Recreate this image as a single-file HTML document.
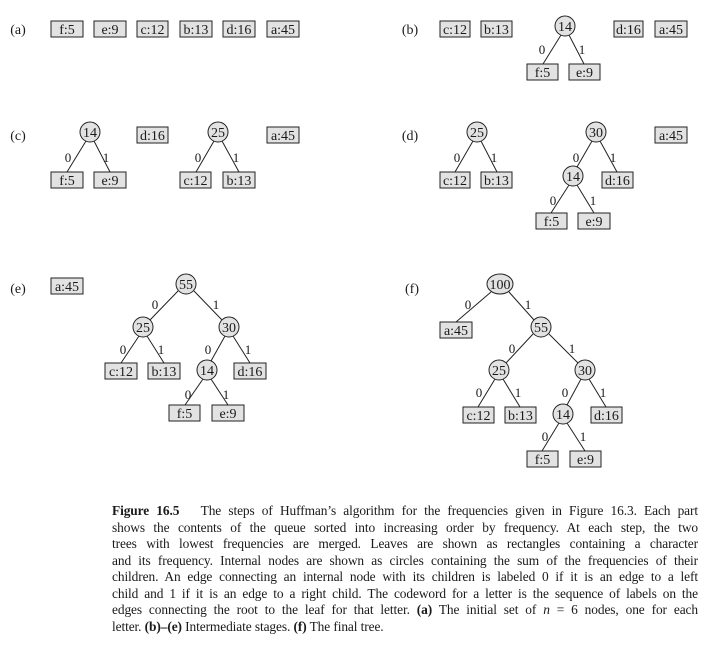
<!DOCTYPE html>
<html><head><meta charset="utf-8"><style>
body{margin:0;background:#fff;width:722px;height:670px;overflow:hidden;position:relative}
svg{position:absolute;left:0;top:0}
svg text{font-family:"Liberation Serif",serif;font-size:14px;fill:#1a1a1a}
.b rect{fill:#e2e2e2;stroke:#222;stroke-width:1}
.c{fill:#e2e2e2;stroke:#222;stroke-width:1}
.e{stroke:#222;stroke-width:1}
.l text{font-size:13px}
.cap{position:absolute;left:112px;top:503px;width:586px;font-family:"Liberation Serif",serif;font-size:13.4px;line-height:16.5px;color:#1a1a1a;letter-spacing:-0.1px}
.cap div{text-align:justify;text-align-last:justify;white-space:nowrap}
.cap div.last{text-align-last:left}
</style></head><body>
<svg width="722" height="670" xmlns="http://www.w3.org/2000/svg" text-anchor="middle">
<text x="18" y="34">(a)</text><text x="410" y="34">(b)</text>
<text x="18" y="140">(c)</text><text x="410" y="140">(d)</text>
<text x="18" y="293">(e)</text><text x="412" y="293">(f)</text>

<g class="e">
<line x1="561" y1="35" x2="543" y2="64"/><line x1="569" y1="35" x2="584" y2="64"/>
<line x1="86" y1="141" x2="67" y2="172"/><line x1="94" y1="141" x2="110" y2="172"/>
<line x1="214" y1="141" x2="196" y2="172"/><line x1="222" y1="141" x2="239" y2="172"/>
<line x1="473" y1="141" x2="455" y2="172"/><line x1="481" y1="141" x2="497" y2="172"/>
<line x1="592" y1="141" x2="577" y2="167"/><line x1="600" y1="141" x2="617" y2="172"/>
<line x1="569" y1="185" x2="551" y2="213"/><line x1="577" y1="185" x2="594" y2="213"/>
<line x1="178" y1="291" x2="150" y2="320"/><line x1="194" y1="291" x2="222" y2="320"/>
<line x1="139" y1="336" x2="121" y2="363"/><line x1="147" y1="336" x2="164" y2="363"/>
<line x1="225" y1="336" x2="211" y2="361"/><line x1="233" y1="336" x2="250" y2="363"/>
<line x1="203" y1="379" x2="185" y2="405"/><line x1="211" y1="379" x2="228" y2="405"/>
<line x1="491" y1="292" x2="456" y2="322"/><line x1="509" y1="292" x2="534" y2="320"/>
<line x1="533" y1="334" x2="506" y2="363"/><line x1="549" y1="334" x2="578" y2="363"/>
<line x1="495" y1="379" x2="478" y2="407"/><line x1="503" y1="379" x2="520" y2="407"/>
<line x1="581" y1="379" x2="567" y2="405"/><line x1="589" y1="379" x2="606" y2="407"/>
<line x1="559" y1="423" x2="542" y2="451"/><line x1="567" y1="423" x2="585" y2="451"/>
</g>

<g class="l">
<text x="542" y="54">0</text><text x="582" y="54">1</text>
<text x="68" y="162">0</text><text x="106" y="162">1</text>
<text x="198" y="162">0</text><text x="236" y="162">1</text>
<text x="457" y="162">0</text><text x="494" y="162">1</text>
<text x="576" y="162">0</text><text x="613" y="162">1</text>
<text x="553" y="205">0</text><text x="593" y="205">1</text>
<text x="155" y="309">0</text><text x="216" y="309">1</text>
<text x="123" y="354">0</text><text x="161" y="354">1</text>
<text x="208" y="354">0</text><text x="248" y="354">1</text>
<text x="188" y="399">0</text><text x="226" y="399">1</text>
<text x="468" y="309">0</text><text x="528" y="309">1</text>
<text x="512" y="353">0</text><text x="572" y="353">1</text>
<text x="479" y="397">0</text><text x="518" y="397">1</text>
<text x="565" y="397">0</text><text x="603" y="397">1</text>
<text x="545" y="441">0</text><text x="583" y="441">1</text>
</g>

<g class="b">
<rect x="51" y="21" width="32" height="16"/><text x="67" y="34">f:5</text>
<rect x="94" y="21" width="32" height="16"/><text x="110" y="34">e:9</text>
<rect x="137" y="21" width="31" height="16"/><text x="152.5" y="34">c:12</text>
<rect x="180" y="21" width="32" height="16"/><text x="196" y="34">b:13</text>
<rect x="223" y="21" width="32" height="16"/><text x="239" y="34">d:16</text>
<rect x="267" y="21" width="32" height="16"/><text x="283" y="34">a:45</text>
<rect x="440" y="21" width="30" height="16"/><text x="455" y="34">c:12</text>
<rect x="481" y="21" width="31" height="16"/><text x="496.5" y="34">b:13</text>
<rect x="614" y="21" width="29" height="16"/><text x="628.5" y="34">d:16</text>
<rect x="655" y="21" width="32" height="16"/><text x="671" y="34">a:45</text>
<rect x="527" y="64" width="31" height="16"/><text x="542.5" y="77">f:5</text>
<rect x="569" y="64" width="31" height="16"/><text x="584.5" y="77">e:9</text>
<rect x="137" y="127" width="31" height="16"/><text x="152.5" y="140">d:16</text>
<rect x="267" y="127" width="32" height="16"/><text x="283" y="140">a:45</text>
<rect x="51" y="172" width="32" height="16"/><text x="67" y="185">f:5</text>
<rect x="94" y="172" width="32" height="16"/><text x="110" y="185">e:9</text>
<rect x="180" y="172" width="31" height="16"/><text x="195.5" y="185">c:12</text>
<rect x="223" y="172" width="32" height="16"/><text x="239" y="185">b:13</text>
<rect x="655" y="127" width="32" height="16"/><text x="671" y="140">a:45</text>
<rect x="440" y="172" width="30" height="16"/><text x="455" y="185">c:12</text>
<rect x="481" y="172" width="31" height="16"/><text x="496.5" y="185">b:13</text>
<rect x="602" y="172" width="31" height="16"/><text x="617.5" y="185">d:16</text>
<rect x="536" y="213" width="31" height="16"/><text x="551.5" y="226">f:5</text>
<rect x="578" y="213" width="32" height="16"/><text x="594" y="226">e:9</text>
<rect x="51" y="278" width="32" height="16"/><text x="67" y="291">a:45</text>
<rect x="105" y="363" width="32" height="16"/><text x="121" y="376">c:12</text>
<rect x="148" y="363" width="32" height="16"/><text x="164" y="376">b:13</text>
<rect x="234" y="363" width="32" height="16"/><text x="250" y="376">d:16</text>
<rect x="169" y="405" width="31" height="16"/><text x="184.5" y="418">f:5</text>
<rect x="212" y="405" width="32" height="16"/><text x="228" y="418">e:9</text>
<rect x="440" y="322" width="32" height="16"/><text x="456" y="335">a:45</text>
<rect x="463" y="407" width="31" height="16"/><text x="478.5" y="420">c:12</text>
<rect x="505" y="407" width="31" height="16"/><text x="520.5" y="420">b:13</text>
<rect x="591" y="407" width="31" height="16"/><text x="606.5" y="420">d:16</text>
<rect x="527" y="451" width="31" height="16"/><text x="542.5" y="464">f:5</text>
<rect x="570" y="451" width="31" height="16"/><text x="585.5" y="464">e:9</text>
</g>

<circle class="c" cx="565" cy="26" r="10"/><text x="565" y="31">14</text>
<circle class="c" cx="90" cy="132" r="10"/><text x="90" y="137">14</text>
<circle class="c" cx="218" cy="132" r="10"/><text x="218" y="137">25</text>
<circle class="c" cx="477" cy="132" r="10"/><text x="477" y="137">25</text>
<circle class="c" cx="596" cy="132" r="10"/><text x="596" y="137">30</text>
<circle class="c" cx="573" cy="176" r="10"/><text x="573" y="181">14</text>
<circle class="c" cx="186" cy="284" r="10"/><text x="186" y="289">55</text>
<circle class="c" cx="143" cy="327" r="10"/><text x="143" y="332">25</text>
<circle class="c" cx="229" cy="327" r="10"/><text x="229" y="332">30</text>
<circle class="c" cx="207" cy="370" r="10"/><text x="207" y="375">14</text>
<ellipse class="c" cx="500" cy="284" rx="13" ry="10"/><text x="500" y="289">100</text>
<circle class="c" cx="541" cy="327" r="10"/><text x="541" y="332">55</text>
<circle class="c" cx="499" cy="370" r="10"/><text x="499" y="375">25</text>
<circle class="c" cx="585" cy="370" r="10"/><text x="585" y="375">30</text>
<circle class="c" cx="563" cy="414" r="10"/><text x="563" y="419">14</text>
</svg>
<div class="cap">
<div><b>Figure 16.5</b>&nbsp;&nbsp; The steps of Huffman’s algorithm for the frequencies given in Figure 16.3. Each part</div>
<div>shows the contents of the queue sorted into increasing order by frequency. At each step, the two</div>
<div>trees with lowest frequencies are merged. Leaves are shown as rectangles containing a character</div>
<div>and its frequency. Internal nodes are shown as circles containing the sum of the frequencies of their</div>
<div>children. An edge connecting an internal node with its children is labeled 0 if it is an edge to a left</div>
<div>child and 1 if it is an edge to a right child. The codeword for a letter is the sequence of labels on the</div>
<div>edges connecting the root to the leaf for that letter. <b>(a)</b> The initial set of <i>n</i> = 6 nodes, one for each</div>
<div class="last">letter. <b>(b)–(e)</b> Intermediate stages. <b>(f)</b> The final tree.</div>
</div>
</body></html>
